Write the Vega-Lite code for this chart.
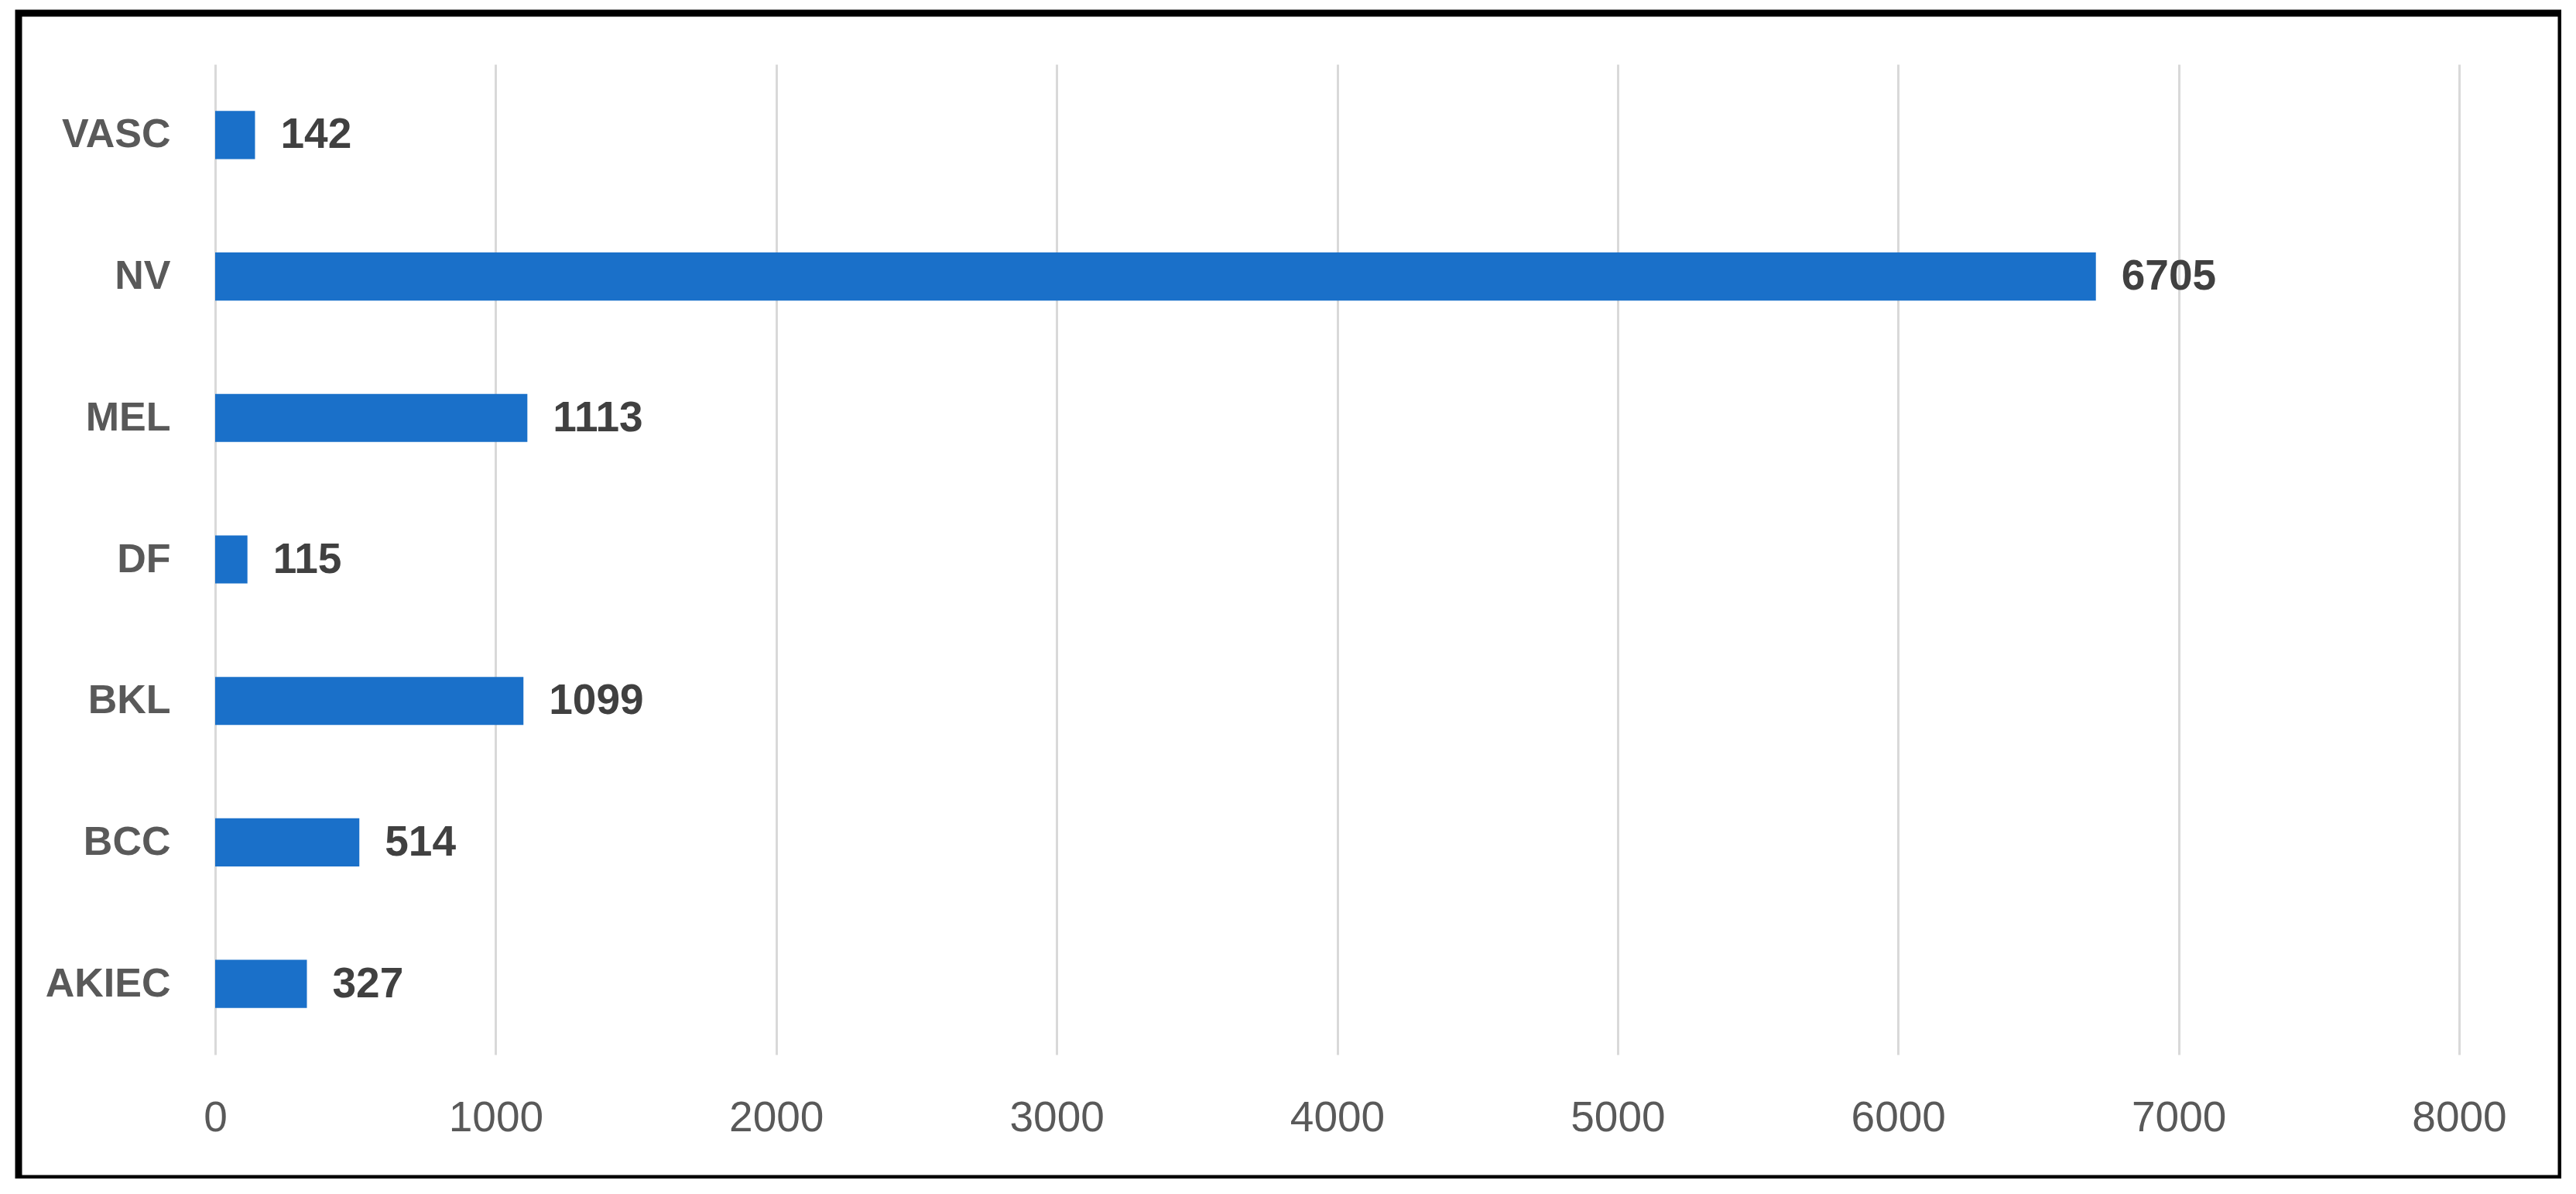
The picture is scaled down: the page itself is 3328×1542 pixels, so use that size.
{
  "$schema": "https://vega.github.io/schema/vega-lite/v6.json",
  "autosize": {"type": "none"},
  "padding": {"left": 24, "top": 17, "right": 0, "bottom": 0},
  "width": 3285,
  "height": 1505,
  "background": "#ffffff",
  "config": {
    "view": {"stroke": "#000000", "strokeWidth": 9, "fill": "#ffffff"},
    "font": "Liberation Sans"
  },
  "data": {
    "values": [
      {"category": "VASC", "count": 142},
      {"category": "NV", "count": 6705},
      {"category": "MEL", "count": 1113},
      {"category": "DF", "count": 115},
      {"category": "BKL", "count": 1099},
      {"category": "BCC", "count": 514},
      {"category": "AKIEC", "count": 327}
    ]
  },
  "encoding": {
    "y": {
      "field": "category",
      "type": "nominal",
      "scale": {
        "domain": ["VASC", "NV", "MEL", "DF", "BKL", "BCC", "AKIEC"],
        "range": [66, 1345],
        "paddingInner": 0.66,
        "paddingOuter": 0.33
      },
      "axis": {
        "title": null,
        "domain": false,
        "ticks": false,
        "grid": false,
        "offset": -254,
        "labelPadding": 58,
        "labelFont": "Liberation Sans",
        "labelFontSize": 52,
        "labelFontWeight": "bold",
        "labelColor": "#595959"
      }
    },
    "x": {
      "field": "count",
      "type": "quantitative",
      "scale": {"domain": [0, 8000], "range": [254, 3153], "nice": false},
      "axis": {
        "orient": "top",
        "title": null,
        "domain": false,
        "ticks": false,
        "values": [0, 1000, 2000, 3000, 4000, 5000, 6000, 7000, 8000],
        "format": "d",
        "grid": true,
        "gridColor": "#D9D9D9",
        "gridWidth": 3,
        "offset": -1426,
        "labelPadding": 0,
        "labelBaseline": "middle",
        "labelFont": "Liberation Sans",
        "labelFontSize": 55,
        "labelColor": "#595959",
        "labelFlush": false
      }
    }
  },
  "layer": [
    {"mark": {"type": "bar", "color": "#1A70C9"}},
    {
      "mark": {
        "type": "text",
        "align": "left",
        "baseline": "middle",
        "dx": 33,
        "font": "Liberation Sans",
        "fontSize": 55,
        "fontWeight": "bold",
        "color": "#404040"
      },
      "encoding": {"text": {"field": "count", "type": "quantitative"}}
    }
  ]
}
